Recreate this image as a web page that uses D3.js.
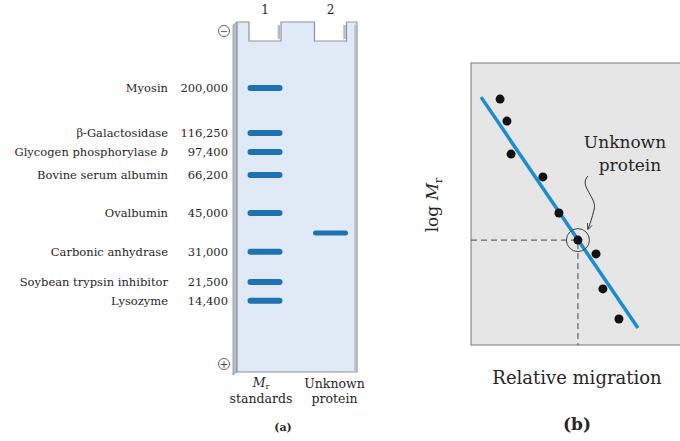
<!DOCTYPE html>
<html>
<head>
<meta charset="utf-8">
<script src="https://cdn.jsdelivr.net/npm/d3@7/dist/d3.min.js"></script>
<style>
body{margin:0;background:#fff;}
svg{display:block;font-family:"DejaVu Serif",serif;}
</style>
</head>
<body>
<div id="chart"></div>
<script>
// gel standards (lane 1)
var proteins=["Myosin","\u03b2-Galactosidase","Glycogen phosphorylase b","Bovine serum albumin","Ovalbumin","Carbonic anhydrase","Soybean trypsin inhibitor","Lysozyme"];
var mrLabels=["200,000","116,250","97,400","66,200","45,000","31,000","21,500","14,400"];
// distance migrated down the gel (0 = well, 1 = bottom)
var gelMigration=[0.142,0.278,0.335,0.405,0.520,0.637,0.728,0.785];
var unknownMigration=0.580;
var lanes=["1","2"];

// panel b: points of log Mr vs relative migration (arbitrary units)
var relMigration=[0.127,0.157,0.175,0.314,0.384,0.467,0.546,0.576,0.646];
var logMr=[0.872,0.794,0.677,0.596,0.468,0.372,0.323,0.199,0.092];
var unknownIndex=5;
var fitLine=[[0.044,0.879],[0.729,0.060]];

var width=680,height=441;
var ink="#262626";
var svg=d3.select("#chart").append("svg")
  .attr("width",width)
  .attr("height",height);

// ---------- panel (a) ----------
var gelLeft=237,gelRight=357,gelTop=22,wellBottom=41,gelBottom=372;
var laneX=d3.scalePoint().domain(lanes).range([265,330.5]);
var gelY=d3.scaleLinear().domain([0,1]).range([wellBottom,gelBottom]);
var wellW=32;

var defs=svg.append("defs");
defs.append("marker")
  .attr("id","arrow")
  .attr("viewBox","0 0 10 10")
  .attr("refX",8).attr("refY",5)
  .attr("markerWidth",7).attr("markerHeight",7)
  .attr("orient","auto")
  .append("path")
  .attr("d","M0,1 L9,5 L0,9")
  .attr("fill","none")
  .attr("stroke","#333")
  .attr("stroke-width",1.2);

var gelPath=d3.path();
gelPath.moveTo(gelLeft,gelTop);
lanes.forEach(function(l){
  var c=laneX(l);
  gelPath.lineTo(c-wellW/2,gelTop);
  gelPath.lineTo(c-wellW/2,wellBottom);
  gelPath.lineTo(c+wellW/2,wellBottom);
  gelPath.lineTo(c+wellW/2,gelTop);
});
gelPath.lineTo(gelRight,gelTop);
gelPath.lineTo(gelRight,gelBottom);
gelPath.lineTo(gelLeft,gelBottom);
gelPath.closePath();

// side face of the gel
svg.append("path")
  .attr("d","M"+(gelLeft-4)+","+(gelTop+3)+" L"+gelLeft+","+gelTop+" L"+gelLeft+","+gelBottom+" L"+(gelLeft-4)+","+(gelBottom+3)+"Z")
  .attr("fill","#b9bec4")
  .attr("stroke","#8e949b")
  .attr("stroke-width",0.8);
svg.append("path")
  .attr("d",gelPath.toString())
  .attr("fill","#dfeaf6")
  .attr("stroke","#8e949b")
  .attr("stroke-width",1.2);
// well wall shading
lanes.forEach(function(l){
  svg.append("line")
    .attr("x1",laneX(l)+wellW/2-2).attr("x2",laneX(l)+wellW/2-2)
    .attr("y1",gelTop+3).attr("y2",wellBottom-2)
    .attr("stroke","#b4bac1")
    .attr("stroke-width",2.5);
});
svg.append("line")
  .attr("x1",gelRight-2).attr("x2",gelRight-2)
  .attr("y1",gelTop+3).attr("y2",gelBottom-1)
  .attr("stroke","#c3c8ce")
  .attr("stroke-width",2);

// lane numbers
svg.selectAll(".lane")
  .data(lanes)
  .enter()
  .append("text")
  .attr("x",function(d){return laneX(d);})
  .attr("y",14)
  .attr("text-anchor","middle")
  .attr("font-size",12)
  .attr("fill",ink)
  .text(function(d){return d;});

// electrodes
[["\u2212",31],["+",364]].forEach(function(e){
  svg.append("circle").attr("cx",224).attr("cy",e[1]).attr("r",5.5)
    .attr("fill","#fff").attr("stroke","#555").attr("stroke-width",0.9);
  svg.append("text").attr("x",224).attr("y",e[1]+3.6)
    .attr("text-anchor","middle").attr("font-size",10).attr("fill","#444")
    .attr("font-family","DejaVu Sans").text(e[0]);
});

var bandW=35,bandH=6;
svg.selectAll(".band")
  .data(gelMigration)
  .enter()
  .append("rect")
  .attr("x",laneX("1")-bandW/2)
  .attr("y",function(d){return gelY(d)-bandH/2;})
  .attr("width",bandW)
  .attr("height",bandH)
  .attr("rx",3)
  .attr("fill","#1f72b0");
svg.append("rect")
  .attr("x",laneX("2")-bandW/2)
  .attr("y",gelY(unknownMigration)-bandH/2+0.5)
  .attr("width",bandW)
  .attr("height",bandH-1)
  .attr("rx",2.5)
  .attr("fill","#1f72b0");

// protein names
svg.selectAll(".pname")
  .data(proteins)
  .enter()
  .append("text")
  .attr("x",168)
  .attr("y",function(d,i){return gelY(gelMigration[i])+4;})
  .attr("text-anchor","end")
  .attr("font-size",11.5)
  .attr("fill",ink)
  .each(function(d){
    var t=d3.select(this);
    if(d.slice(-2)===" b"){
      t.append("tspan").text(d.slice(0,-1));
      t.append("tspan").attr("font-style","italic").text("b");
    } else t.text(d);
  });
svg.selectAll(".mr")
  .data(mrLabels)
  .enter()
  .append("text")
  .attr("x",228)
  .attr("y",function(d,i){return gelY(gelMigration[i])+4;})
  .attr("text-anchor","end")
  .attr("font-size",11.5)
  .attr("fill",ink)
  .text(function(d){return d;});

// lane captions
var cx1=laneX("1"),cx2=laneX("2");
var mrT=svg.append("text").attr("x",cx1-4).attr("y",387).attr("text-anchor","middle")
  .attr("font-size",12.5).attr("fill",ink);
mrT.append("tspan").attr("font-style","italic").text("M");
mrT.append("tspan").attr("font-size",8).attr("dy",2).text("r");
svg.append("text").attr("x",cx1-4).attr("y",403).attr("text-anchor","middle")
  .attr("font-size",12.5).attr("fill",ink).text("standards");
svg.append("text").attr("x",cx2+4).attr("y",388).attr("text-anchor","middle")
  .attr("font-size",12.5).attr("fill",ink).text("Unknown");
svg.append("text").attr("x",cx2+4).attr("y",403).attr("text-anchor","middle")
  .attr("font-size",12.5).attr("fill",ink).text("protein");
svg.append("text").attr("x",283).attr("y",431).attr("text-anchor","middle")
  .attr("font-size",11).attr("font-weight","bold").attr("fill",ink).text("(a)");

// ---------- panel (b) ----------
var px=d3.scaleLinear().domain([0,1]).range([471,700]);
var py=d3.scaleLinear().domain([0,1]).range([345,63]);

svg.append("rect")
  .attr("x",px(0)).attr("y",py(1))
  .attr("width",px(1)-px(0)).attr("height",py(0)-py(1))
  .attr("fill","#e6e6e6")
  .attr("stroke","#777")
  .attr("stroke-width",1);

var ux=px(relMigration[unknownIndex]),uy=py(logMr[unknownIndex]);
svg.append("path")
  .attr("d","M"+px(0)+","+uy+" H"+ux+" V"+py(0))
  .attr("fill","none")
  .attr("stroke","#444")
  .attr("stroke-width",1)
  .attr("stroke-dasharray","6,4");

svg.append("path")
  .datum(fitLine)
  .attr("d",d3.line().x(function(d){return px(d[0]);}).y(function(d){return py(d[1]);}))
  .attr("stroke","#1a8ccf")
  .attr("stroke-width",3.5)
  .attr("fill","none");

svg.selectAll(".pt")
  .data(relMigration)
  .enter()
  .append("circle")
  .attr("cx",function(d){return px(d);})
  .attr("cy",function(d,i){return py(logMr[i]);})
  .attr("r",4.5)
  .attr("fill","#111");

svg.append("circle")
  .attr("cx",ux).attr("cy",uy).attr("r",11.5)
  .attr("fill","none").attr("stroke","#444").attr("stroke-width",1);

svg.append("path")
  .attr("d","M588,176 C578,186 598,198 594,210 C592,218 590,224 588,229")
  .attr("fill","none")
  .attr("stroke","#333")
  .attr("stroke-width",1)
  .attr("marker-end","url(#arrow)");

svg.append("text").attr("x",625).attr("y",148).attr("text-anchor","middle")
  .attr("font-size",17).attr("fill",ink).text("Unknown");
svg.append("text").attr("x",630).attr("y",171).attr("text-anchor","middle")
  .attr("font-size",17).attr("fill",ink).text("protein");

var yl=svg.append("text")
  .attr("transform","translate(438,205) rotate(-90)")
  .attr("text-anchor","middle")
  .attr("font-size",17).attr("fill",ink);
yl.append("tspan").text("log ");
yl.append("tspan").attr("font-style","italic").text("M");
yl.append("tspan").attr("font-size",11).attr("dy",4).text("r");

svg.append("text").attr("x",577).attr("y",384).attr("text-anchor","middle")
  .attr("font-size",18).attr("fill",ink).text("Relative migration");
svg.append("text").attr("x",577).attr("y",430).attr("text-anchor","middle")
  .attr("font-size",17).attr("font-weight","bold").attr("fill",ink).text("(b)");
</script>
</body>
</html>
